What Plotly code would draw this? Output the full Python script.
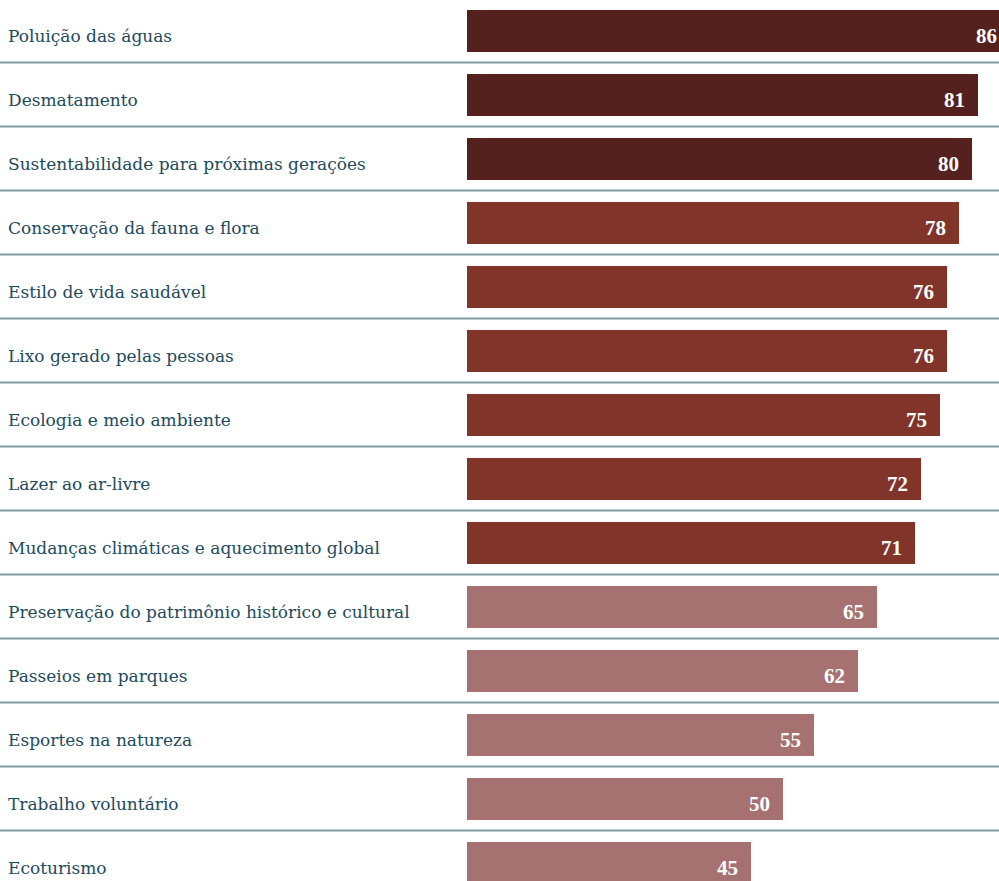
import plotly.graph_objects as go

# Topics and share of respondents (%)
topics = [
    "Poluição das águas",
    "Desmatamento",
    "Sustentabilidade para próximas gerações",
    "Conservação da fauna e flora",
    "Estilo de vida saudável",
    "Lixo gerado pelas pessoas",
    "Ecologia e meio ambiente",
    "Lazer ao ar-livre",
    "Mudanças climáticas e aquecimento global",
    "Preservação do patrimônio histórico e cultural",
    "Passeios em parques",
    "Esportes na natureza",
    "Trabalho voluntário",
    "Ecoturismo",
]
values = [86, 81, 80, 78, 76, 76, 75, 72, 71, 65, 62, 55, 50, 45]
tiers = [0, 0, 0, 1, 1, 1, 1, 1, 1, 2, 2, 2, 2, 2]

TIER_COLORS = ["#55211f", "#80342a", "#a67171"]
LABEL_COLOR = "#1c4a5e"
RULE_COLOR = "#809ba4"
SERIF = "DejaVu Serif"
VALUE_FONT = "Liberation Serif"

W, H = 999, 881
ROW = 64.0
FIRST_CENTER = 31.0
x_left_px = 467
px_per_unit = 6.31
label_gap_px = 12

n = len(topics)
rows = list(range(n))
y_top = -FIRST_CENTER / ROW
y_bottom = (H - FIRST_CENTER) / ROW
x_max = (W - x_left_px) / px_per_unit

fig = go.Figure(
    go.Bar(
        x=values,
        y=rows,
        orientation="h",
        width=42 / ROW,
        marker=dict(color=[TIER_COLORS[t] for t in tiers], line=dict(width=0)),
        hoverinfo="skip",
    )
)

# category names, left-aligned at the page edge
annotations = [
    dict(
        x=6 / W, xref="paper", xanchor="left",
        y=i + 5 / ROW, yref="y", yanchor="middle",
        text=name, showarrow=False,
        font=dict(family=SERIF, size=17, color=LABEL_COLOR),
    )
    for i, name in enumerate(topics)
]

# value labels, right-aligned just inside the end of each bar
annotations += [
    dict(
        x=v - label_gap_px / px_per_unit, xref="x", xanchor="right",
        y=i + 4.5 / ROW, yref="y", yanchor="middle",
        text=str(v), showarrow=False, borderpad=0,
        font=dict(family=VALUE_FONT, size=21, color="white", weight="bold"),
    )
    for i, v in enumerate(values)
]

shapes = [
    dict(
        type="line", xref="paper", x0=0, x1=1,
        yref="y", y0=i + 0.5 - 0.5 / ROW, y1=i + 0.5 - 0.5 / ROW,
        line=dict(color=RULE_COLOR, width=2),
        layer="below",
    )
    for i in range(n - 1)
]

fig.update_layout(
    width=W, height=H,
    margin=dict(l=0, r=0, t=0, b=0, pad=0),
    paper_bgcolor="white", plot_bgcolor="white",
    showlegend=False,
    bargap=0,
    xaxis=dict(
        domain=[x_left_px / W, 1],
        range=[0, x_max],
        visible=False, fixedrange=True,
    ),
    yaxis=dict(
        range=[y_bottom, y_top],
        visible=False, fixedrange=True,
    ),
    annotations=annotations,
    shapes=shapes,
)

fig.write_html("out.html", config={"displayModeBar": False})
